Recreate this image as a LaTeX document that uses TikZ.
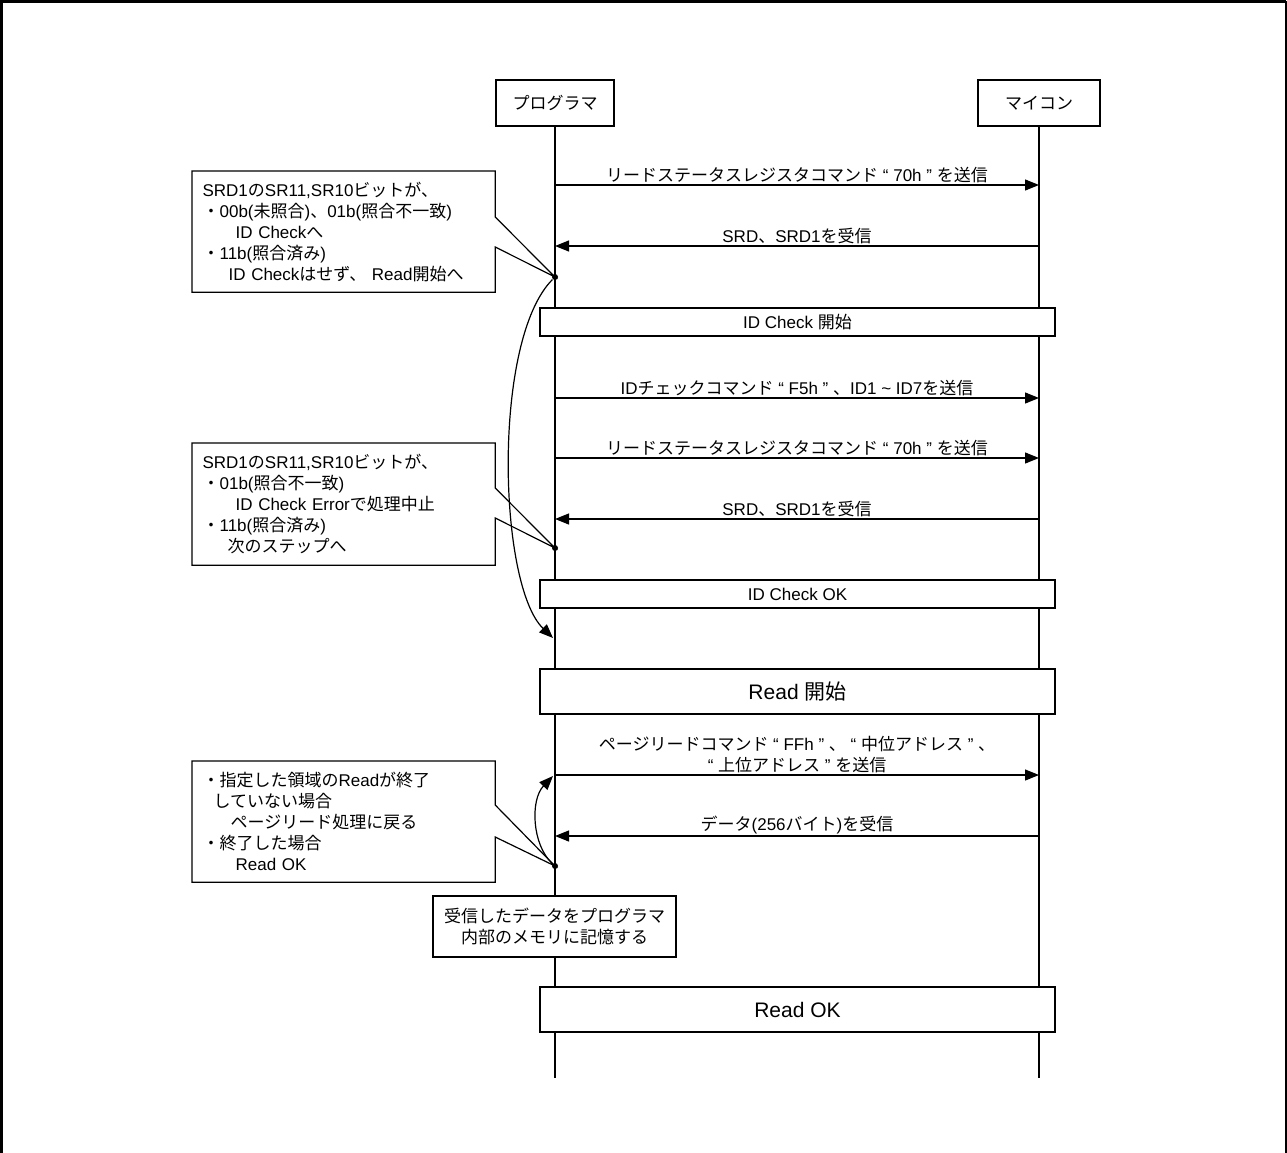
\documentclass[tikz,border=0pt]{standalone}
\usepackage{fontspec}
\setmainfont{Liberation Sans}
\newfontfamily\jpfont{Noto Sans CJK JP}
\usetikzlibrary{arrows.meta,positioning}
\XeTeXinterchartokenstate=1
\newXeTeXintercharclass\jpclass
\makeatletter
\count@="3000
\loop\XeTeXcharclass\count@=\jpclass\advance\count@ by 1 \ifnum\count@<"A000 \repeat
\count@="FF00
\loop\XeTeXcharclass\count@=\jpclass\advance\count@ by 1 \ifnum\count@<"FFF0 \repeat
\makeatother
\XeTeXinterchartoks 0 \jpclass={\jpfont}
\XeTeXinterchartoks 4095 \jpclass={\jpfont}
\XeTeXinterchartoks \jpclass 0={\rmfamily}
\XeTeXinterchartoks \jpclass 4095={\rmfamily}

\begin{document}
\begin{tikzpicture}[x=1pt,y=-1pt,line width=1.2pt,
                    every node/.style={font=\fontsize{17}{21}\selectfont},
                    actor/.style={draw,minimum width=118pt,minimum height=46pt,inner sep=0pt},
                    msg/.style={-{Triangle[length=14pt,width=11pt]}},
                    label/.style={above,inner sep=1.5pt},
                    bar/.style={draw,fill=white,minimum width=515pt,minimum height=28pt,inner sep=0pt},
                    bigbar/.style={bar,minimum height=45pt,font=\fontsize{21}{25}\selectfont},
                    note/.style={anchor=north west,align=left,inner xsep=10pt,inner ysep=0pt,
                                 text width=282pt,minimum width=302pt,minimum height=120pt},
                    dot/.style={circle,fill,inner sep=0pt,minimum size=6pt}]
  \useasboundingbox (0,0) rectangle (1287,1153);
  \draw[line width=3pt] (1.5,1153) -- (1.5,1.5) -- (1285.5,1.5);
  \draw[line width=2pt] (1285.5,1.5) -- (1285.5,1153);

  \node[actor] (prog) at (555,103) {プログラマ};
  \node[actor,minimum width=122pt] (mcu) at (1039,103) {マイコン};
  \coordinate (progend) at (prog |- 0,1078);
  \coordinate (mcuend) at (mcu |- 0,1078);
  \draw (prog.south) -- (progend);
  \draw (mcu.south) -- (mcuend);

  \draw[msg] (prog |- 0,185) -- node[label] {リードステータスレジスタコマンド “ 70h ” を送信} (mcu |- 0,185);
  \draw[msg] (mcu |- 0,246) -- node[label] {SRD、SRD1を受信} (prog |- 0,246);
  \node[bar] (idstart) at (797.5,322) {ID Check 開始};
  \draw[msg] (prog |- 0,398) -- node[label] {IDチェックコマンド “ F5h ” 、ID1 \textasciitilde{} ID7を送信} (mcu |- 0,398);
  \draw[msg] (prog |- 0,458) -- node[label] {リードステータスレジスタコマンド “ 70h ” を送信} (mcu |- 0,458);
  \draw[msg] (mcu |- 0,519) -- node[label] {SRD、SRD1を受信} (prog |- 0,519);
  \node[bar] (idok) at (797.5,594) {ID Check OK};
  \node[bigbar] (readstart) at (797.5,691.5) {Read 開始};
  \draw[msg] (prog |- 0,775) -- node[label,align=center] {ページリードコマンド “ FFh ” 、 “ 中位アドレス ” 、\\“ 上位アドレス ” を送信} (mcu |- 0,775);
  \draw[msg] (mcu |- 0,836) -- node[label] {データ(256バイト)を受信} (prog |- 0,836);
  \node[draw,fill=white,minimum width=243pt,minimum height=61pt,align=center,inner sep=0pt] (store) at (554.5,926.5)
    {受信したデータをプログラマ\\内部のメモリに記憶する};
  \node[bigbar] (readok) at (797.5,1009.5) {Read OK};

  \node[dot] (d1) at (555,277) {};
  \node[note] (n1) at (192,171) {SRD1のSR11,SR10ビットが、\\
    ・00b(未照合)、01b(照合不一致)\\
    \hspace*{33pt}ID Checkへ\\
    ・11b(照合済み)\\
    \hspace*{26pt}ID Checkはせず、 Read開始へ};
  \draw (n1.north west) -- (n1.north east) -- (n1.north east |- 0,217) -- (d1.center)
    -- (n1.north east |- 0,247) -- (n1.south east) -- (n1.south west) -- cycle;
  \coordinate (skip) at (553,638);
  \draw[msg] (d1) .. controls (492,340) and (498,585) .. (skip);

  \node[dot] (d2) at (555,548) {};
  \node[note,minimum height=121pt] (n2) at (192,443) {SRD1のSR11,SR10ビットが、\\
    ・01b(照合不一致)\\
    \hspace*{33pt}ID Check Errorで処理中止\\
    ・11b(照合済み)\\
    \hspace*{25pt}次のステップへ};
  \draw (n2.north west) -- (n2.north east) -- (n2.north east |- 0,488) -- (d2.center)
    -- (n2.north east |- 0,518) -- (n2.south east) -- (n2.south west) -- cycle;

  \node[dot] (d3) at (555,866) {};
  \node[note] (n3) at (192,761) {・指定した領域のReadが終了\\
    \hspace*{11pt}していない場合\\
    \hspace*{28pt}ページリード処理に戻る\\
    ・終了した場合\\
    \hspace*{33pt}Read OK};
  \draw (n3.north west) -- (n3.north east) -- (n3.north east |- 0,805) -- (d3.center)
    -- (n3.north east |- 0,837) -- (n3.south east) -- (n3.south west) -- cycle;
  \coordinate (back) at (553,776);
  \draw[msg] (d3) .. controls (532,845) and (530,800) .. (back);
\end{tikzpicture}
\end{document}
